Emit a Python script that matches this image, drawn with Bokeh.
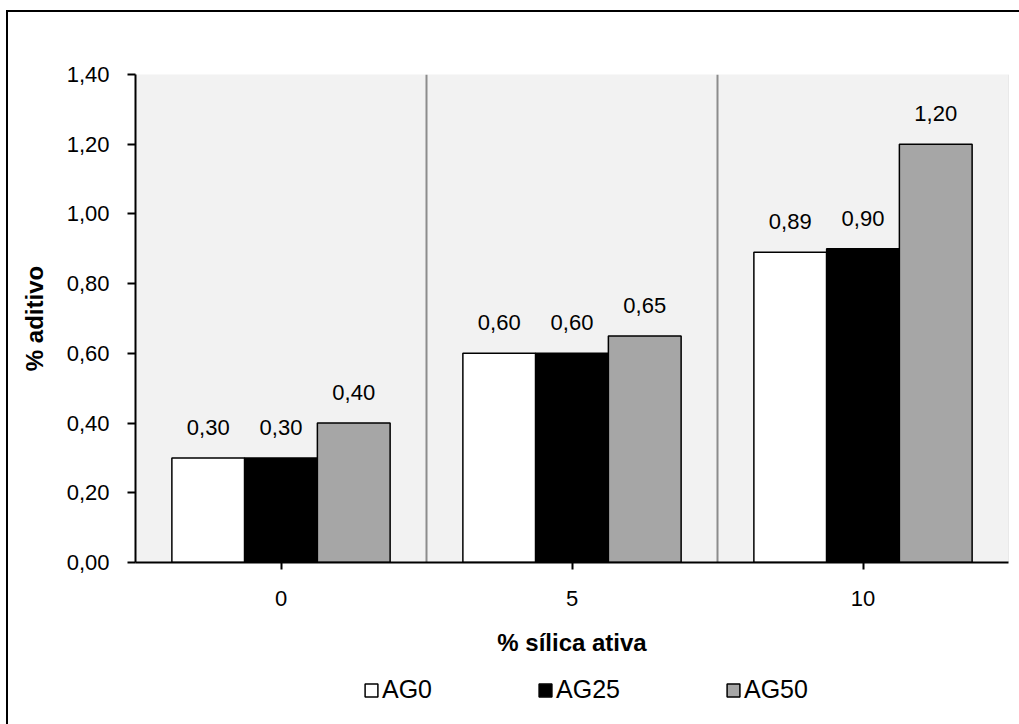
from bokeh.plotting import figure
from bokeh.layouts import column
from bokeh.models import (ColumnDataSource, FactorRange, Range1d, FixedTicker,
                          LabelSet, Legend, LegendItem)
from bokeh.core.properties import value
from bokeh.transform import dodge
from bokeh.embed import file_html
from bokeh.resources import INLINE

# --- data -------------------------------------------------------------
silica = ["0", "5", "10"]                 # % silica ativa
ag0 = [0.30, 0.60, 0.89]
ag25 = [0.30, 0.60, 0.90]
ag50 = [0.40, 0.65, 1.20]
series_names = ["AG0", "AG25", "AG50"]
y_ticks = [0.0, 0.2, 0.4, 0.6, 0.8, 1.0, 1.2, 1.4]
y_tick_labels = ["0,00", "0,20", "0,40", "0,60", "0,80", "1,00", "1,20", "1,40"]

FONT = "Liberation Sans"
fills = ["#FFFFFF", "#000000", "#A6A6A6"]
offsets = [-0.25, 0.0, 0.25]

# --- main bar chart ---------------------------------------------------
p = figure(
    x_range=FactorRange(*silica, range_padding=0),
    y_range=Range1d(0, 1.4),
    width=1011, height=662,
    min_border_left=127, min_border_right=11,
    min_border_top=62, min_border_bottom=112,
    output_backend="svg", toolbar_location=None,
    background_fill_color="#F2F2F2", border_fill_color="#FFFFFF",
)
p.outline_line_color = None
p.xgrid.visible = False
p.ygrid.visible = False

# separators between the silica groups
sep = ColumnDataSource(dict(x=silica[:-1], y0=[0, 0], y1=[1.4, 1.4]))
p.segment(x0=dodge("x", 0.5, range=p.x_range), x1=dodge("x", 0.5, range=p.x_range),
          y0="y0", y1="y1", source=sep, line_color="#8C8C8C", line_width=2)
edge = ColumnDataSource(dict(x=silica[-1:], y0=[0], y1=[1.4]))
p.segment(x0=dodge("x", 0.5, range=p.x_range), x1=dodge("x", 0.5, range=p.x_range),
          y0="y0", y1="y1", source=edge, line_color="#D9D9D9", line_width=1)

# legend strip under the chart; its hidden bars only provide the swatch styles
leg = figure(
    x_range=p.x_range, y_range=Range1d(2, 3),
    width=1011, height=50, min_border=0,
    x_axis_type=None, y_axis_type=None,
    output_backend="svg", toolbar_location=None,
    background_fill_color="#FFFFFF", border_fill_color="#FFFFFF",
)
leg.outline_line_color = None
leg.xgrid.visible = False
leg.ygrid.visible = False

legend_items = []
for name, vals, fill, off in zip(series_names, [ag0, ag25, ag50], fills, offsets):
    src = ColumnDataSource(dict(
        x=silica, y=vals,
        txt=[f"{v:.2f}".replace(".", ",") for v in vals],
    ))
    bar_style = dict(x=dodge("x", off, range=p.x_range), top="y", width=0.25, source=src,
                     fill_color=fill, line_color="#000000", line_width=1.5)
    p.vbar(**bar_style)
    swatch = leg.vbar(**bar_style)
    swatch.visible = False
    labels = LabelSet(x=dodge("x", off, range=p.x_range), y="y", text="txt", source=src,
                      y_offset=23, text_align="center", text_baseline="alphabetic",
                      text_font=value(FONT), text_font_size="22px", text_color="#000000")
    p.add_layout(labels)
    legend_items.append(LegendItem(label=name, renderers=[swatch]))

# axes
p.yaxis.ticker = FixedTicker(ticks=y_ticks)
p.yaxis.major_label_overrides = dict(zip(y_ticks, y_tick_labels))
p.yaxis.axis_label = "% aditivo"
p.xaxis.axis_label = "% sílica ativa"
for ax in (p.xaxis, p.yaxis):
    ax.axis_line_color = "#000000"
    ax.axis_line_width = 2
    ax.major_tick_line_color = "#000000"
    ax.major_tick_line_width = 2
    ax.major_tick_in = 0
    ax.minor_tick_line_color = None
    ax.major_label_text_font = FONT
    ax.major_label_text_font_size = "22px"
    ax.major_label_text_color = "#000000"
    ax.axis_label_text_font = FONT
    ax.axis_label_text_font_size = "24px"
    ax.axis_label_text_font_style = "bold"
    ax.axis_label_text_color = "#000000"
p.yaxis.major_tick_out = 8
p.yaxis.major_label_standoff = 18
p.yaxis.axis_label_standoff = 16
p.xaxis.major_tick_out = 7
p.xaxis.major_label_standoff = 21
p.xaxis.axis_label_standoff = 20

legend = Legend(items=legend_items, location=(228, 20), orientation="horizontal",
                spacing=105, padding=0, margin=0, glyph_width=16, glyph_height=16,
                label_standoff=3, label_height=16, label_text_font=FONT,
                label_text_font_size="25px", label_text_color="#000000",
                border_line_color=None, background_fill_alpha=0)
leg.add_layout(legend)

# chart box with its outer frame on the top and left edges
page = column(p, leg, spacing=0,
              styles={"border-left": "2px solid #000000", "border-top": "2px solid #000000",
                      "margin-left": "6px", "margin-top": "10px"})

open("out.html", "w").write(file_html(page, INLINE))
